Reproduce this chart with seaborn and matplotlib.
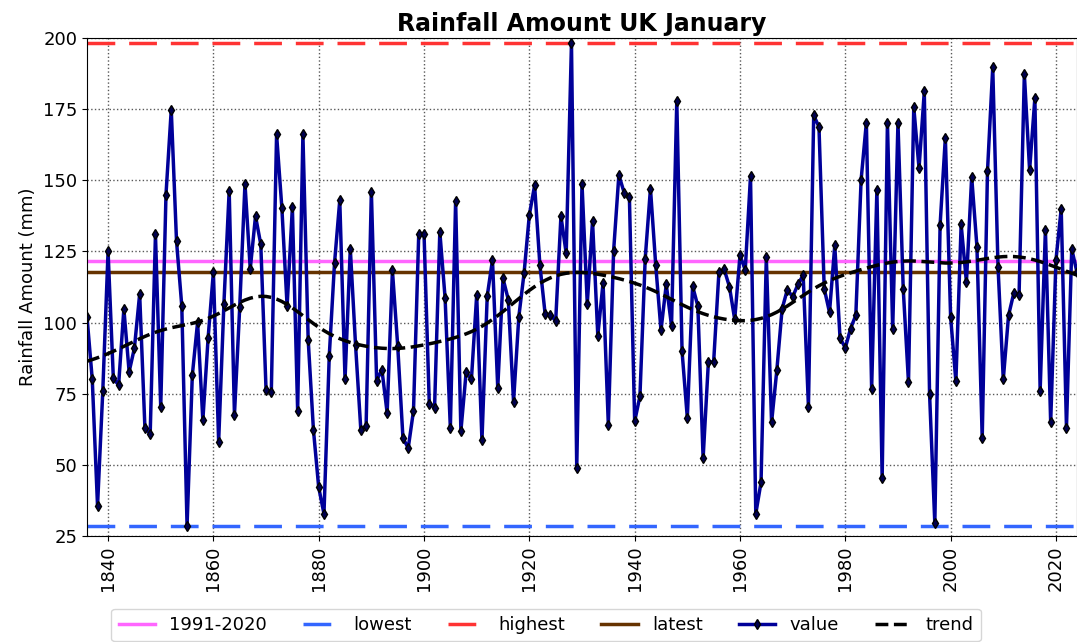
import numpy as np
import pandas as pd
import seaborn as sns
import matplotlib
matplotlib.use("Agg")
import matplotlib.pyplot as plt

# January rainfall, UK (mm), 1836-2024
years = list(range(1836, 2025))
rainfall = [
    102, 80, 35.6, 76, 125, 80.5, 78, 104.8, 82.7, 91,
    110, 62.9, 60.9, 131, 70.2, 145, 174.8, 128.6, 105.8, 28.6,
    81.5, 100.1, 65.7, 94.6, 117.8, 58.2, 106.7, 146.4, 67.6, 105.4,
    148.8, 118.8, 137.4, 127.5, 76.4, 75.6, 166.1, 140.4, 105.8, 140.5,
    69.1, 166.1, 94.0, 62.3, 42.1, 32.8, 88.1, 120.8, 143, 80,
    126, 92, 62.3, 63.5, 146, 79.6, 83.5, 68.2, 118.3, 91.9,
    59.4, 55.9, 69, 131.3, 131.3, 71.5, 70, 131.9, 108.7, 62.9,
    142.8, 61.9, 82.6, 80, 109.6, 58.6, 109.3, 122, 77, 115.5,
    108.1, 72.2, 102, 117.4, 137.8, 148.2, 120.3, 103, 102.8, 100.5,
    137.4, 124.3, 198.2, 48.8, 148.8, 106.6, 135.7, 95.4, 114, 64.1,
    125.1, 151.8, 145.7, 144.1, 65.3, 74.1, 122.4, 147.1, 120.2, 97.3,
    113.4, 98.9, 177.9, 89.9, 66.5, 112.8, 105.8, 52.3, 86.2, 86.2,
    117.7, 118.7, 112.6, 101.1, 123.6, 118.5, 151.5, 32.8, 43.9, 123,
    64.9, 83.3, 104.8, 111.6, 109, 113.4, 116.7, 70.5, 172.8, 168.8,
    111.9, 103.6, 127.1, 94.6, 91.1, 97.9, 102.6, 150.1, 170.3, 76.8,
    146.6, 45.3, 170.3, 97.7, 170.3, 111.9, 79, 175.8, 154.2, 181.2,
    75, 29.4, 134.2, 165, 102, 79.3, 134.5, 114.2, 151.2, 126.6,
    59.4, 153.1, 189.7, 119.7, 80, 102.5, 110.4, 109.8, 187.3, 153.6,
    178.9, 76, 132.7, 64.9, 121.9, 140, 63.1, 125.9, 117.6,
]
xtick_years = list(range(1840, 2021, 20))

df = pd.DataFrame({"year": years, "rain": rainfall})

# smooth trend: gaussian weighted average of the series
yr = df["year"].to_numpy(dtype=float)
w = np.exp(-0.5 * ((yr[:, None] - yr[None, :]) / 7.0) ** 2)
df["trend"] = (w @ df["rain"].to_numpy()) / w.sum(axis=1)

normal = df.loc[df["year"].between(1991, 2020), "rain"].mean()
lowest = df["rain"].min()
highest = df["rain"].max()
latest = df["rain"].iloc[-1]

fig = plt.figure(figsize=(10.77, 6.42), dpi=100)
ax = fig.add_axes([87 / 1077, 1 - 536 / 642, 1 - 87 / 1077, (536 - 38) / 642])

ax.axhline(normal, color="#ff66ff", lw=2.5, label="1991-2020")
ax.axhline(lowest, color="#3366ff", lw=2.5, ls=(0, (8, 4)), label="lowest")
ax.axhline(highest, color="#ff3333", lw=2.5, ls=(0, (8, 4)), label="highest")
ax.axhline(latest, color="#663300", lw=2.5, label="latest")

sns.lineplot(data=df, x="year", y="rain", ax=ax, color="#000099", lw=2.5,
             marker="d", markersize=5, markerfacecolor="#000050",
             markeredgecolor="black", markeredgewidth=1, label="value")
sns.lineplot(data=df, x="year", y="trend", ax=ax, color="black", lw=2.5,
             ls="--", label="trend")

ax.set_xlim(1836, 2024)
ax.set_ylim(25, 200)
ax.set_xticks(xtick_years)
ax.set_yticks(range(25, 201, 25))
ax.tick_params(axis="x", labelrotation=90, labelsize=13)
ax.tick_params(axis="y", labelsize=13)
ax.grid(True, ls=":", color="0.35", lw=1)
ax.set_xlabel("")
ax.set_ylabel("Rainfall Amount (mm)", fontsize=13)
ax.set_title("Rainfall Amount UK January", fontsize=17, fontweight="bold", pad=5)

ax.get_legend().remove()
handles, labels = ax.get_legend_handles_labels()
fig.legend(handles, labels, loc="center", bbox_to_anchor=(546 / 1077, 1 - 625 / 642),
           ncol=6, fontsize=13, frameon=True)

fig.savefig("out.png", dpi=100)
